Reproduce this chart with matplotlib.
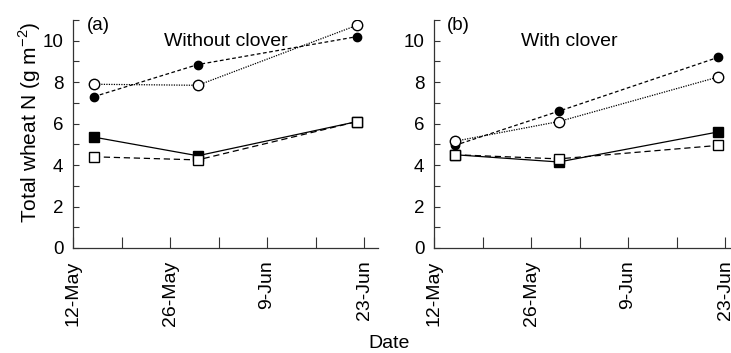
import matplotlib
matplotlib.use('Agg')
import matplotlib.pyplot as plt
import numpy as np

plt.rcParams['font.family'] = ['Liberation Sans', 'DejaVu Sans']
plt.rcParams['mathtext.fontset'] = 'custom'
plt.rcParams['mathtext.rm'] = 'Liberation Sans'

# sampling dates
dates = ['2000-05-15', '2000-05-30', '2000-06-22']

# (a) without clover
a_fcirc = [7.3, 8.85, 10.2]
a_ocirc = [7.9, 7.85, 10.75]
a_fsq = [5.35, 4.45, 6.1]
a_osq = [4.4, 4.25, 6.1]

# (b) with clover
b_fcirc = [4.95, 6.6, 9.2]
b_ocirc = [5.15, 6.1, 8.25]
b_fsq = [4.5, 4.15, 5.6]
b_osq = [4.5, 4.3, 4.95]

tick_dates = ['2000-05-12', '2000-05-19', '2000-05-26', '2000-06-02',
              '2000-06-09', '2000-06-16', '2000-06-23']
tick_labels = ['12-May', '', '26-May', '', '9-Jun', '', '23-Jun']

x = np.array(dates, dtype='datetime64[D]')
xt = np.array(tick_dates, dtype='datetime64[D]')
x0 = np.datetime64('2000-05-12')
xd = (x - x0).astype(float)
xtd = (xt - x0).astype(float)

fig = plt.figure(figsize=(7.31, 3.53), dpi=100)
W, H = 731.0, 353.0
axa = fig.add_axes([73 / W, (H - 248) / H, 305 / W, 228 / H])
axb = fig.add_axes([434 / W, (H - 248) / H, 305 / W, 228 / H])

def draw(ax, fc, oc, fs, os_, tag, tagx, title, titlex):
    ax.plot(xd, fc, color='black', lw=0.9, ls=(0, (3, 2)), marker='o', ms=6,
            mfc='black', mec='black', zorder=3)
    ax.plot(xd, oc, color='black', lw=0.9, ls=(0, (1, 1)), marker='o', ms=7.5,
            mfc='white', mec='black', mew=1, zorder=4)
    ax.plot(xd, fs, color='black', lw=0.9, ls='-', marker='s', ms=6.5,
            mfc='black', mec='black', zorder=3)
    ax.plot(xd, os_, color='black', lw=0.9, ls=(0, (5, 3)), marker='s', ms=7,
            mfc='white', mec='black', mew=1, zorder=4)
    ax.set_xlim(0, 44)
    ax.set_ylim(0, 11)
    ax.set_yticks([0, 2, 4, 6, 8, 10])
    ax.set_yticks([1, 3, 5, 7, 9, 11], minor=True)
    ax.set_xticks(xtd)
    ax.set_xticklabels(tick_labels, rotation=90, fontsize=14)
    ax.tick_params(axis='x', direction='in', length=8, width=0.8, pad=9,
                   color='#333333')
    ax.tick_params(axis='y', which='both', direction='in', length=4.5,
                   width=0.8, pad=7, labelsize=13.5, color='#333333')
    for s in ['top', 'right']:
        ax.spines[s].set_visible(False)
    for s in ['left', 'bottom']:
        ax.spines[s].set_linewidth(0.9)
        ax.spines[s].set_color('#333333')
    ax.text(tagx, 1.015, tag, transform=ax.transAxes, fontsize=13.5,
            ha='left', va='top')
    ax.text(titlex, 0.945, title, transform=ax.transAxes, fontsize=14,
            ha='center', va='top')

draw(axa, a_fcirc, a_ocirc, a_fsq, a_osq, '(a)', 0.045, 'Without clover', 0.50)
draw(axb, b_fcirc, b_ocirc, b_fsq, b_osq, '(b)', 0.042, 'With clover', 0.443)

fig.text(30 / W, 1 - 122 / H, 'Total wheat N (g m$^{-2}$)', rotation=90,
         ha='center', va='center', fontsize=15)
fig.text(389 / W, 1 - 344 / H, 'Date', ha='center', va='center', fontsize=14)

fig.savefig('out.png', dpi=100)
